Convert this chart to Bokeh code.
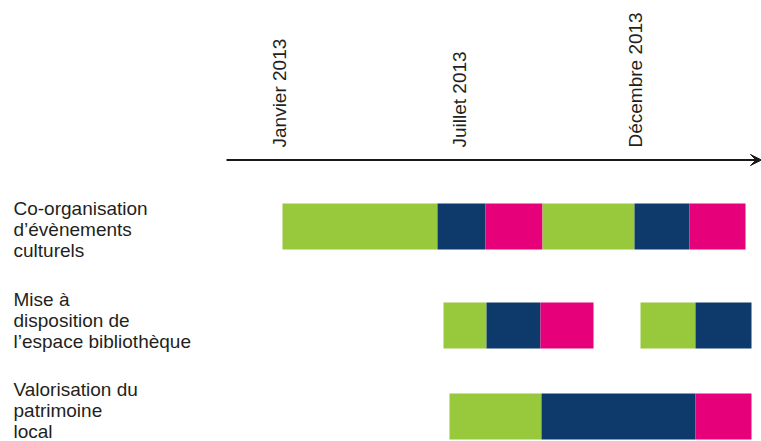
from math import pi
from bokeh.plotting import figure
from bokeh.models import Range1d, Arrow, VeeHead, ColumnDataSource
from bokeh.core.properties import value
from bokeh.embed import file_html
from bokeh.resources import INLINE

# Timeline positions are measured along the arrow (0 = start of the arrow)
tick_labels = ["Janvier 2013", "Juillet 2013", "Décembre 2013"]
tick_pos = [53, 233, 409]

activities = [
    "Co-organisation\nd’évènements\nculturels",
    "Mise à\ndisposition de\nl’espace bibliothèque",
    "Valorisation du\npatrimoine\nlocal",
]
row_center = [226, 325, 416]
label_top = [197, 288, 378]

seg_row = [0, 0, 0, 0, 0, 0, 1, 1, 1, 1, 1, 2, 2, 2]
seg_start = [56, 211, 259, 316, 408, 463, 217, 260, 314, 414, 469, 223, 315, 469]
seg_end = [211, 259, 316, 408, 463, 519, 260, 314, 367, 469, 525, 315, 469, 525]
seg_phase = ["vert", "bleu", "rose", "vert", "bleu", "rose",
             "vert", "bleu", "rose", "vert", "bleu",
             "vert", "bleu", "rose"]

phase_colors = {"vert": "#98C83C", "bleu": "#0E3A6B", "rose": "#E6007A"}
text_color = "#231F20"
font = "Liberation Sans"

W, H = 761, 441
p = figure(width=W, height=H, output_backend="svg", toolbar_location=None,
           x_range=Range1d(-226, 535), y_range=Range1d(441, 0),
           x_axis_type=None, y_axis_type=None, min_border=0)
p.grid.visible = False
p.outline_line_color = None
p.background_fill_color = "white"
p.border_fill_color = "white"

seg = ColumnDataSource(dict(
    left=seg_start, right=seg_end,
    y=[row_center[r] for r in seg_row],
    color=[phase_colors[ph] for ph in seg_phase],
))
p.hbar(y="y", left="left", right="right", height=46, fill_color="color",
       line_color=None, source=seg)

# Timeline arrow
p.add_layout(Arrow(x_start=0, y_start=159.5, x_end=535, y_end=159.5,
                   line_color="#1a1a1a", line_width=2.2,
                   end=VeeHead(size=11, fill_color="#1a1a1a", line_color="#1a1a1a",
                               line_width=1)))

# Rotated date labels
p.text(x=tick_pos, y=[147] * len(tick_pos), text=tick_labels, angle=pi / 2,
       text_align="left", text_baseline="middle", text_font=value(font),
       text_font_size="19px", text_color=text_color)

# Activity labels
p.text(x=[-213] * len(activities), y=label_top, text=activities,
       text_align="left", text_baseline="top", text_font=value(font),
       text_font_size="19px", text_color=text_color, text_line_height=1.0)

open("out.html", "w").write(file_html(p, INLINE))
